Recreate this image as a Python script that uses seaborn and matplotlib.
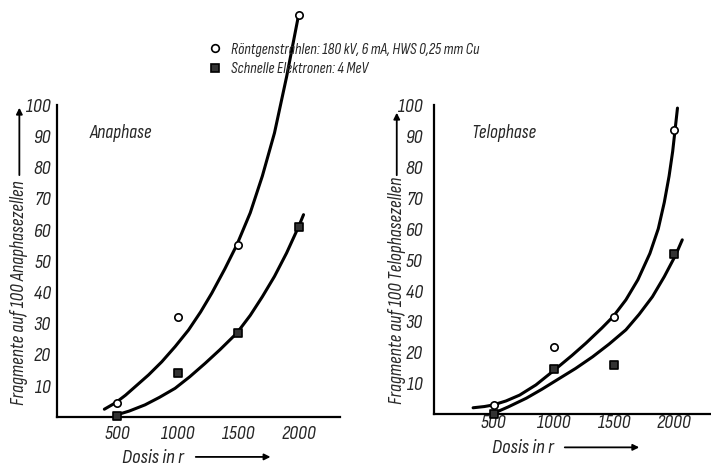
import matplotlib
matplotlib.use("Agg")
import matplotlib.pyplot as plt
import seaborn as sns
from matplotlib.lines import Line2D

# measured points (dose in r, fragments per 100 cells)
dose = [500, 1000, 1500, 2000]
ana_roentgen = [4.5, 32, 55, 129]
ana_elektron = [0.3, 14.1, 26.8, 61]
telo_roentgen = [3.0, 21.9, 31.6, 91.9]
telo_elektron = [0.2, 14.6, 15.9, 51.7]

# hand drawn curves
ana_r_curve_x = [395, 489, 570, 649, 760, 869, 980, 1090, 1190, 1282, 1390, 1489, 1600, 1700, 1800, 1900, 2000]
ana_r_curve_y = [2.4, 4.5, 6.9, 9.6, 13.4, 17.6, 22.5, 27.8, 33.6, 39.6, 47.4, 55.1, 65.4, 77.2, 91, 109, 129]
ana_e_curve_x = [489, 600, 731, 850, 979, 1100, 1227, 1350, 1489, 1600, 1700, 1800, 1900, 2000, 2040]
ana_e_curve_y = [0.5, 1.8, 3.8, 6.2, 9.1, 12.8, 17.1, 21.5, 26.8, 32.5, 38.5, 45, 52.5, 61, 64.8]
telo_r_curve_x = [326, 420, 492, 600, 714, 850, 1004, 1150, 1267, 1400, 1494, 1600, 1700, 1800, 1870, 1920, 1960, 1990, 2010, 2030]
telo_r_curve_y = [2.1, 2.5, 3.0, 4.3, 6.2, 9.5, 14.3, 19, 23, 27.9, 31.6, 37, 43.5, 52, 60, 68.5, 77, 85, 92, 99]
telo_e_curve_x = [479, 620, 770, 900, 1046, 1180, 1323, 1460, 1600, 1710, 1821, 1920, 2015, 2070]
telo_e_curve_y = [0.0, 2.4, 5.2, 8.1, 11.6, 14.8, 18.6, 22.7, 27.3, 32.3, 38, 44.5, 51.5, 56.4]

xticks = [500, 1000, 1500, 2000]
yticks = [10, 20, 30, 40, 50, 60, 70, 80, 90, 100]

label_r = "Röntgenstrahlen: 180 kV, 6 mA, HWS 0,25 mm Cu"
label_e = "Schnelle Elektronen: 4 MeV"

sns.set_style("ticks")
plt.rcParams["font.family"] = ["Sofia Sans Condensed", "Roboto Condensed", "DejaVu Sans"]
plt.rcParams["font.style"] = "italic"
plt.rcParams["font.weight"] = "medium"
plt.rcParams["font.size"] = 12

fig = plt.figure(figsize=(7.11, 4.66), dpi=100)
ax1 = fig.add_axes([0.0795, 0.1058, 0.399, 0.669])
ax2 = fig.add_axes([0.6104, 0.111, 0.388, 0.6637])

panels = [
    (ax1, ana_roentgen, ana_elektron, ana_r_curve_x, ana_r_curve_y, ana_e_curve_x, ana_e_curve_y,
     "Anaphase", "Fragmente auf 100 Anaphasezellen", 2343, 6, 4,
     (277, 91), (-0.131, 0.397), (0.766, 1.0), (0.34, -0.132), (0.481, 0.764, -0.129)),
    (ax2, telo_roentgen, telo_elektron, telo_r_curve_x, telo_r_curve_y, telo_e_curve_x, telo_e_curve_y,
     "Telophase", "Fragmente auf 100 Telophasezellen", 2300, 0, 8,
     (314, 91), (-0.135, 0.399), (0.764, 0.984), (0.322, -0.109), (0.464, 0.754, -0.107)),
]

for (ax, yr, ye, rcx, rcy, ecx, ecy, title, ylab, xmax, xpad, ypad,
     tpos, ylpos, yarr, xlpos, xarr) in panels:
    sns.lineplot(x=rcx, y=rcy, ax=ax, color="black", lw=2.2, sort=False,
                 estimator=None, clip_on=False)
    sns.lineplot(x=ecx, y=ecy, ax=ax, color="black", lw=2.2, sort=False,
                 estimator=None, clip_on=False)
    sns.scatterplot(x=dose, y=yr, ax=ax, marker="o", s=28, facecolor="white",
                    edgecolor="black", linewidth=1.2, zorder=5, clip_on=False)
    sns.scatterplot(x=dose, y=ye, ax=ax, marker="s", s=26, facecolor="#333333",
                    edgecolor="black", linewidth=1.2, zorder=5, clip_on=False)
    ax.set_xlim(0, xmax)
    ax.set_ylim(0, 100)
    ax.set_xticks(xticks)
    ax.set_yticks(yticks)
    ax.tick_params(axis="x", length=0, pad=xpad, labelsize=14.5)
    ax.tick_params(axis="y", length=0, pad=ypad, labelsize=14.5)
    sns.despine(ax=ax)
    for s in ["left", "bottom"]:
        ax.spines[s].set_linewidth(1.6)
        ax.spines[s].set_color("black")
    ax.set_xlabel("")
    ax.set_ylabel("")
    ax.text(tpos[0], tpos[1], title, fontsize=14, ha="left", va="center")
    ax.text(ylpos[0], ylpos[1], ylab, transform=ax.transAxes, rotation=90,
            ha="center", va="center", fontsize=14)
    ax.annotate("", xy=(ylpos[0], yarr[1]), xytext=(ylpos[0], yarr[0]),
                xycoords="axes fraction", textcoords="axes fraction",
                arrowprops=dict(arrowstyle="-|>", color="black", lw=1.3,
                                mutation_scale=9))
    ax.text(xlpos[0], xlpos[1], "Dosis in r", transform=ax.transAxes,
            ha="center", va="center", fontsize=15)
    ax.annotate("", xy=(xarr[1], xarr[2]), xytext=(xarr[0], xarr[2]),
                xycoords="axes fraction", textcoords="axes fraction",
                arrowprops=dict(arrowstyle="-|>", color="black", lw=1.3,
                                mutation_scale=9))

handles = [
    Line2D([], [], marker="o", ls="none", markerfacecolor="white",
           markeredgecolor="black", markersize=5.5, markeredgewidth=1.2, label=label_r),
    Line2D([], [], marker="s", ls="none", markerfacecolor="#333333",
           markeredgecolor="black", markersize=5.5, markeredgewidth=1.2, label=label_e),
]
fig.legend(handles=handles, loc="upper left", bbox_to_anchor=(0.291, 0.908),
           frameon=False, fontsize=11.2, handlelength=1, handletextpad=0.55,
           borderpad=0, borderaxespad=0, labelspacing=0.35)

fig.savefig("out.png", dpi=100)
